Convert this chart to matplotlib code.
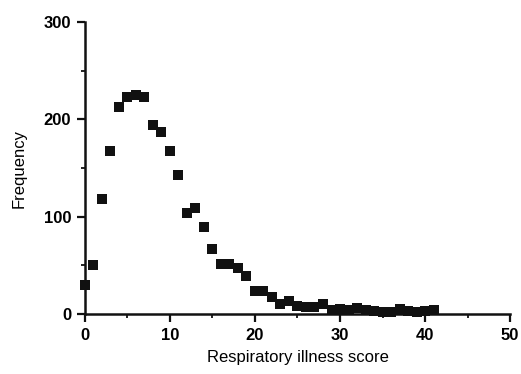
import matplotlib
matplotlib.use("Agg")
import matplotlib.pyplot as plt
from matplotlib.ticker import MultipleLocator

# respiratory illness score vs frequency
score = list(range(0, 42))
freq = [30, 51, 118, 168, 213, 223, 225, 223, 194, 187,
        168, 143, 104, 109, 90, 67, 52, 52, 47, 39,
        24, 24, 18, 10, 14, 8, 7, 7, 10, 4,
        5, 4, 6, 4, 3, 2, 2, 5, 3, 2,
        3, 4]

x_ticks = [0, 10, 20, 30, 40, 50]
y_ticks = [0, 100, 200, 300]

plt.rcParams["font.family"] = ["Liberation Sans", "DejaVu Sans"]

fig = plt.figure(figsize=(5.21, 3.74), dpi=100, facecolor="white")
ax = fig.add_axes([0.163, 0.160, 0.816, 0.781])

ax.plot(score, freq, linestyle="none", marker="s", markersize=7,
        color="#111111", markeredgewidth=0, clip_on=False, zorder=3)

ax.set_xlim(0, 50)
ax.set_ylim(0, 300)
ax.set_xticks(x_ticks)
ax.set_yticks(y_ticks)
ax.xaxis.set_minor_locator(MultipleLocator(5))
ax.yaxis.set_minor_locator(MultipleLocator(50))

ax.spines[["top", "right"]].set_visible(False)
for s in ("left", "bottom"):
    ax.spines[s].set_linewidth(1.8)
    ax.spines[s].set_color("#111111")

ax.tick_params(which="major", direction="out", length=6, width=1.6,
               color="#111111", labelsize=12, pad=4)
ax.tick_params(which="minor", direction="out", length=3, width=1.3,
               color="#111111")
for lab in ax.get_xticklabels() + ax.get_yticklabels():
    lab.set_fontweight("bold")

ax.set_xlabel("Respiratory illness score", fontsize=12, labelpad=5)
ax.set_ylabel("Frequency", fontsize=12, labelpad=12)

fig.savefig("out.png", dpi=100, facecolor="white")
